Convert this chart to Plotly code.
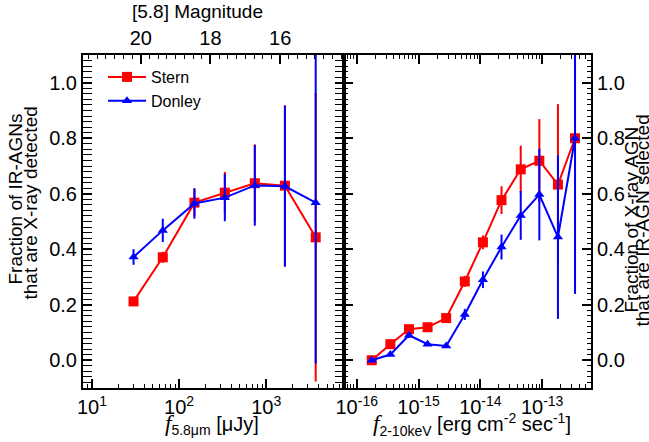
import numpy as np
import plotly.graph_objects as go

# ---- data ----
left_flux = [30, 65, 150, 335, 740, 1640, 3700]  # uJy
stern_left = [0.212, 0.371, 0.568, 0.604, 0.638, 0.629, 0.443]
stern_left_err = [0.01, 0.02, 0.05, 0.075, 0.14, 0.29, 0.52]
donley_left = [0.372, 0.468, 0.565, 0.586, 0.630, 0.627, 0.568]
donley_left_err = [0.028, 0.042, 0.055, 0.085, 0.145, 0.29, 0.58]

right_flux = [1.75e-16, 3.5e-16, 7e-16, 1.4e-15, 2.8e-15, 5.6e-15, 1.1e-14,
              2.2e-14, 4.5e-14, 9e-14, 1.8e-13, 3.4e-13]
stern_right = [0.0, 0.058, 0.112, 0.119, 0.152, 0.284, 0.425, 0.577, 0.688, 0.719, 0.633, 0.80]
stern_right_err = [0, 0.005, 0.01, 0.01, 0.01, 0.02, 0.025, 0.05, 0.085, 0.15, 0.29, 0.56]
donley_right = [0.0, 0.0205, 0.09, 0.058, 0.0515, 0.165, 0.29, 0.408, 0.522, 0.597, 0.444, 0.80]
donley_right_err = [0, 0.005, 0.01, 0.005, 0.005, 0.02, 0.03, 0.045, 0.088, 0.165, 0.295, 0.56]

mag_ticks = [20, 18, 16]
y_ticks = [0.0, 0.2, 0.4, 0.6, 0.8, 1.0]
left_range = [0.897, 3.893]      # log10 uJy
right_range = [-16.206, -12.21]  # log10 erg/cm2/s
y_range = [-0.1, 1.1]

FONT = "Liberation Sans, Arial"
RED = "#ff0000"
BLUE = "#0000ff"
W, H = 649, 442
ML, MR, MT, MB = 83, 58, 55, 54
PW, PH = W - ML - MR, H - MT - MB

fig = go.Figure()

def add(x, y, e, color, symbol, name, xa, ya, show):
    fig.add_trace(go.Scatter(
        x=x, y=y, mode="lines+markers", name=name, showlegend=show,
        xaxis=xa, yaxis=ya, cliponaxis=True,
        line=dict(color=color, width=2),
        marker=dict(symbol=symbol, size=10 if symbol == "square" else 9, color=color),
        error_y=dict(type="data", array=e, visible=True, color=color, thickness=2, width=0),
    ))

add(left_flux, stern_left, stern_left_err, RED, "square", "Stern", "x", "y", True)
add(left_flux, donley_left, donley_left_err, BLUE, "triangle-up", "Donley", "x", "y", True)
add(right_flux, stern_right, stern_right_err, RED, "square", "Stern", "x2", "y2", False)
add(right_flux, donley_right, donley_right_err, BLUE, "triangle-up", "Donley", "x2", "y2", False)
# dummy trace so the magnitude axis renders
fig.add_trace(go.Scatter(x=[None], y=[None], xaxis="x3", yaxis="y", showlegend=False,
                         hoverinfo="skip"))

def log_minor(lo, hi):
    vals = []
    for n in range(int(np.floor(lo)) - 1, int(np.ceil(hi)) + 1):
        for k in range(2, 10):
            v = k * 10.0 ** n
            if lo <= np.log10(v) <= hi:
                vals.append(v)
    return vals

def log_major(lo, hi):
    ns = [n for n in range(int(np.floor(lo)), int(np.ceil(hi)) + 1) if lo <= n <= hi]
    return [10.0 ** n for n in ns], ["10<sup>%d</sup>" % n for n in ns]

lmaj, ltxt = log_major(*left_range)
rmaj, rtxt = log_major(*right_range)

split = (344 - ML) / PW
tickfont = dict(family=FONT, size=20, color="black")
minor_common = dict(ticks="inside", ticklen=4, tickwidth=1, tickcolor="black")
base = dict(showline=True, linecolor="black", linewidth=2, automargin=False,
            ticks="inside", ticklen=9, tickwidth=1.5, tickcolor="black",
            showgrid=False, zeroline=False, tickfont=tickfont)

fig.update_layout(
    width=W, height=H,
    margin=dict(l=ML, r=MR, t=MT, b=MB),
    paper_bgcolor="white", plot_bgcolor="white",
    font=dict(family=FONT, size=16, color="black"),
    showlegend=True,
    legend=dict(x=(103 - ML) / PW, y=(H - MB - 60) / PH, xanchor="left", yanchor="top",
                bgcolor="rgba(0,0,0,0)", font=dict(family=FONT, size=16),
                itemwidth=38, tracegroupgap=0, borderwidth=0),
    xaxis=dict(base, type="log", domain=[0, split], range=left_range, anchor="y",
               tickvals=lmaj, ticktext=ltxt, mirror=False,
               minor=dict(minor_common, tickvals=log_minor(*left_range))),
    xaxis2=dict(base, type="log", domain=[split, 1], range=right_range, anchor="y2",
                tickvals=rmaj, ticktext=rtxt, mirror="allticks",
                minor=dict(minor_common, tickvals=log_minor(*right_range))),
    xaxis3=dict(base, overlaying="x", side="top", anchor="y", domain=[0, split],
                range=[23.9 - 2.5 * left_range[0], 23.9 - 2.5 * left_range[1]],
                tickvals=mag_ticks, ticktext=[str(m) for m in mag_ticks],
                minor=dict(minor_common, dtick=0.25)),
    yaxis=dict(base, range=y_range, domain=[0, 1], anchor="x", side="left",
               tickvals=y_ticks, ticktext=["%.1f" % v for v in y_ticks], mirror="allticks",
               minor=dict(minor_common, dtick=0.02)),
    yaxis2=dict(base, range=y_range, domain=[0, 1], anchor="x2", side="right",
                tickvals=y_ticks, ticktext=["%.1f" % v for v in y_ticks], mirror="allticks",
                minor=dict(minor_common, dtick=0.02)),
)

fI = "<span style=\"font-family:'Liberation Serif';font-style:italic;font-size:23px\">f</span>"

def px_ann(text, cx, cy, size, angle=0):
    # cx, cy in page pixels
    fig.add_annotation(text=text, xref="paper", yref="paper",
                       x=(cx - ML) / PW, y=(H - MB - cy) / PH,
                       xanchor="center", yanchor="middle", showarrow=False,
                       textangle=angle, font=dict(family=FONT, size=size, color="black"))

# axis titles
px_ann(fI + "<sub>5.8μm</sub> [μJy]", 212, 424, 20)
px_ann(fI + "<sub>2-10keV</sub> [erg cm<sup>-2</sup> sec<sup>-1</sup>]", 472, 424, 20)
px_ann("[5.8] Magnitude", 197, 12, 19)
px_ann("Fraction of IR-AGNs", 14.5, 199, 19, -90)
px_ann("that are X-ray detected", 29.5, 203, 19, -90)
px_ann("Fraction of X-ray AGN", 630.5, 220, 19, -90)
px_ann("that are IR-AGN selected", 641.5, 221, 19, -90)

fig.write_html("out.html", config={"displayModeBar": False},
               post_script="document.body.style.margin='0';document.body.style.overflow='hidden';")
